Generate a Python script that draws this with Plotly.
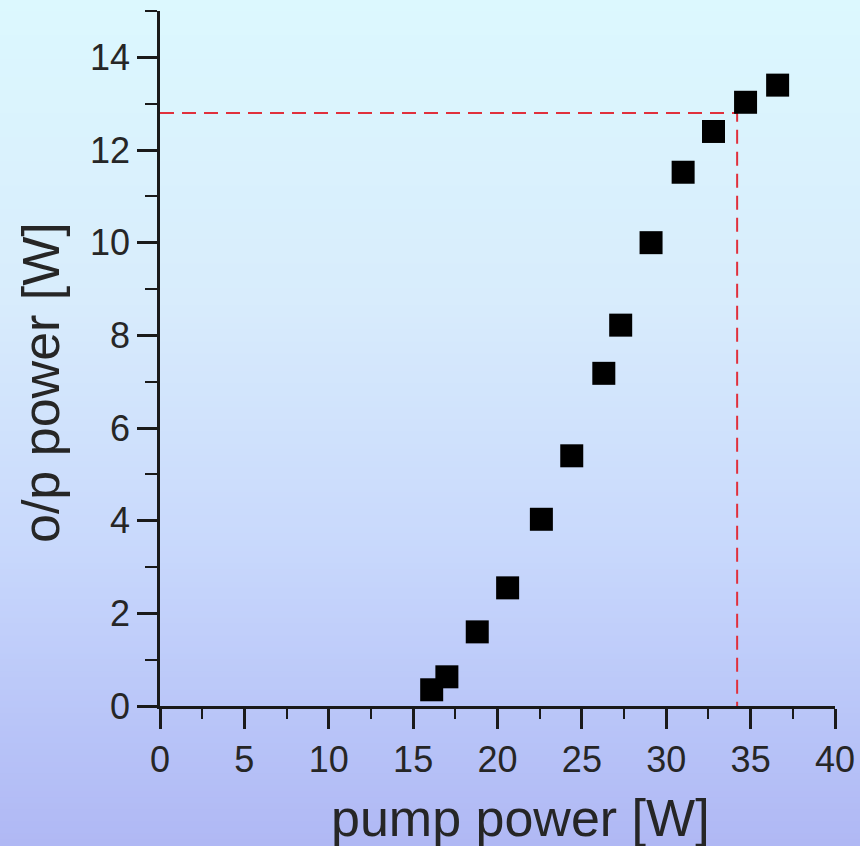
import plotly.graph_objects as go

# ---- data ----
pump_power = [16.1, 17.0, 18.8, 20.6, 22.6, 24.4, 26.3, 27.3, 29.1, 31.0, 32.8, 34.7, 36.6]
op_power = [0.35, 0.63, 1.6, 2.55, 4.03, 5.4, 7.18, 8.22, 10.0, 11.52, 12.4, 13.03, 13.4]
guide_x = [0, 34.2, 34.2]
guide_y = [12.8, 12.8, 0]
x_title = "pump power [W]"
y_title = "o/p power [W]"

W, H = 860, 846
ML, MR, MT, MB = 160, 25, 11, 140
PW, PH = W - ML - MR, H - MT - MB

# background gradient stops (pixel row, rgb)
stops = [(0, (220, 248, 254)), (300, (216, 236, 252)), (550, (200, 216, 252)),
         (730, (184, 196, 248)), (846, (176, 184, 244))]


def col_at(py):
    for (a, ca), (b, cb) in zip(stops[:-1], stops[1:]):
        if a <= py <= b:
            t = (py - a) / (b - a)
            return tuple(round(ca[i] + t * (cb[i] - ca[i])) for i in range(3))
    return stops[-1][1]


shapes = []
step = 6
for py in range(0, H, step):
    c = col_at(py + step / 2)
    y1 = (H - MB - py) / PH
    y0 = (H - MB - (py + step)) / PH
    shapes.append(dict(type="rect", xref="paper", yref="paper",
                       x0=-ML / PW - 0.01, x1=(W - ML) / PW + 0.01,
                       y0=y0 - 0.001, y1=y1 + 0.001,
                       fillcolor="rgb(%d,%d,%d)" % c, line=dict(width=0),
                       layer="below"))

fig = go.Figure()
fig.add_trace(go.Scatter(x=guide_x, y=guide_y, mode="lines",
                         line=dict(color="#e0303c", width=2, dash="14px,8px"),
                         hoverinfo="skip", showlegend=False))
fig.add_trace(go.Scatter(x=pump_power, y=op_power, mode="markers",
                         marker=dict(symbol="square", size=23, color="#000000",
                                     line=dict(width=0)),
                         showlegend=False))

font = "Liberation Sans, Arial, sans-serif"
axis_common = dict(showline=True, linewidth=2.5, linecolor="#1a1a1a",
                   ticks="outside", ticklen=20, tickwidth=2.5, tickcolor="#1a1a1a",
                   showgrid=False, zeroline=False, automargin=False,
                   tickfont=dict(family=font, size=36, color="#262626"))

title_font = dict(family=font, size=52, color="#262626")
annotations = [
    dict(text=x_title, xref="paper", yref="paper",
         x=(520 - ML) / PW, y=(H - MB - 787) / PH,
         xanchor="center", yanchor="top", showarrow=False, font=title_font),
    dict(text=y_title, xref="paper", yref="paper", textangle=-90,
         x=(41 - ML) / PW, y=(H - MB - 383) / PH,
         xanchor="center", yanchor="middle", showarrow=False, font=title_font),
]

fig.update_layout(
    width=W, height=H,
    margin=dict(l=ML, r=MR, t=MT, b=MB),
    paper_bgcolor="rgb(220,248,254)",
    plot_bgcolor="rgba(0,0,0,0)",
    shapes=shapes,
    annotations=annotations,
    xaxis=dict(range=[0, 40], tick0=0, dtick=5,
               minor=dict(dtick=2.5, ticklen=10, tickwidth=2, tickcolor="#1a1a1a", ticks="outside"),
               **axis_common),
    yaxis=dict(range=[0, 15], tick0=0, dtick=2,
               minor=dict(dtick=1, ticklen=12, tickwidth=2, tickcolor="#1a1a1a", ticks="outside"),
               **axis_common),
)

fig.write_html("out.html")
